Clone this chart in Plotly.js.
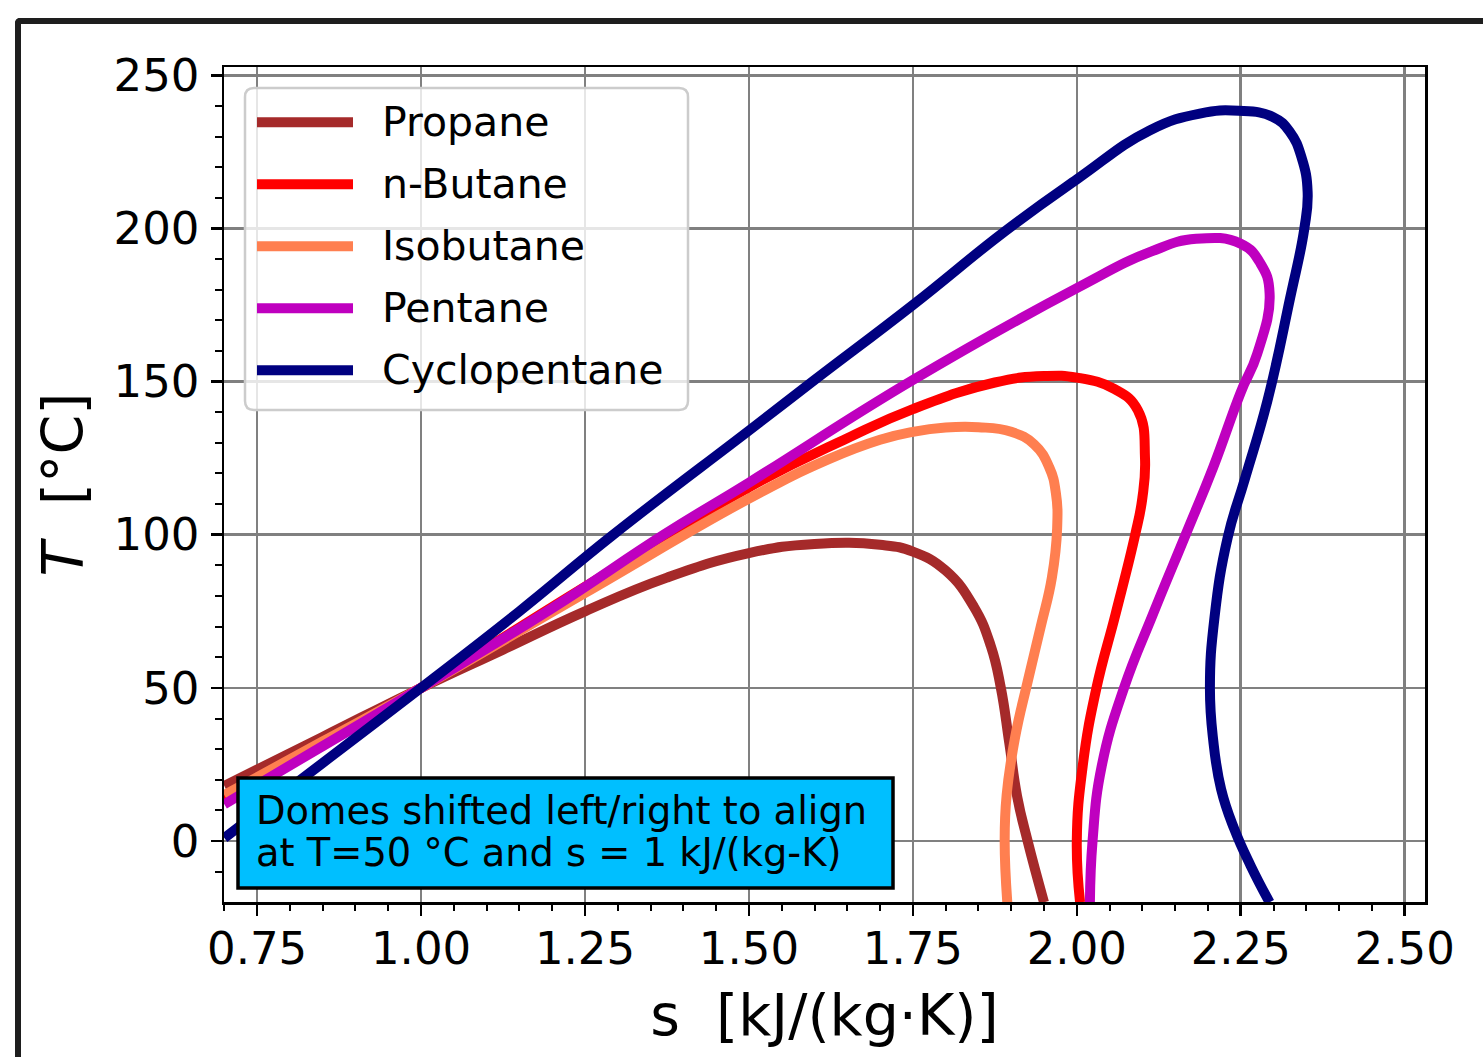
<!DOCTYPE html>
<html><head><meta charset="utf-8">
<script src="https://cdn.plot.ly/plotly-3.0.1.min.js"></script>
<style>
html,body{margin:0;padding:0;width:1483px;height:1057px;overflow:hidden;background:#fff;}
#chart{position:absolute;left:0;top:0;width:1483px;height:1057px;}
#frame{position:absolute;left:15px;top:18px;width:1600px;height:1200px;border-left:6px solid #1e1e1e;border-top:6px solid #1e1e1e;border-top-left-radius:5px;pointer-events:none;}
</style></head><body>
<div id="chart"></div><div id="frame"></div>
<script>
// ---- data ----
const seriesNames = ['Propane', 'n-Butane', 'Isobutane', 'Pentane', 'Cyclopentane'];
const seriesColors = ['#A52A2A', '#FF0000', '#FF7F50', '#BF00BF', '#000080'];

const propaneS = [0.70, 0.85, 1.00, 1.125, 1.25, 1.375, 1.50, 1.60, 1.70, 1.75, 1.80, 1.843, 1.869, 1.884, 1.897, 1.909, 1.925, 1.95];
const propaneT = [18, 34, 50, 62.5, 75, 86, 94, 97, 96.7, 94.5, 88.3, 76.5, 63.6, 50.2, 32.1, 14.6, 0, -20];

const butaneS = [0.70, 0.85, 1.00, 1.25, 1.50, 1.65, 1.75, 1.875, 1.95, 2.00, 2.057, 2.093, 2.104, 2.100, 2.089, 2.059, 2.030, 2.009, 2.000, 2.005];
const butaneT = [13.5, 32, 50, 83, 115.5, 131.5, 141, 149.7, 151.8, 151.3, 147.6, 140.7, 125, 112, 100, 74, 50, 24.5, 0, -20];

const isobutaneS = [0.70, 0.85, 1.00, 1.25, 1.50, 1.62, 1.70, 1.75, 1.80, 1.85, 1.90, 1.935, 1.958, 1.968, 1.97, 1.962, 1.945, 1.925, 1.906, 1.893, 1.89, 1.894];
const isobutaneT = [15, 32.5, 50, 81, 111.8, 124.5, 131, 133.6, 135, 135.1, 133.6, 129.5, 122, 113.8, 102, 86, 70, 52, 34, 15, 0, -20];

const pentaneS = [0.70, 0.85, 1.00, 1.20, 1.37, 1.50, 1.75, 2.00, 2.113, 2.182, 2.25, 2.28, 2.294, 2.275, 2.25, 2.208, 2.166, 2.116, 2.072, 2.038, 2.024, 2.02];
const pentaneT = [12, 31, 50, 76, 100, 117, 150.5, 180.5, 192.4, 196.6, 195, 188.6, 178.8, 159, 146.5, 122, 100, 74, 50, 24.5, 0, -20];

const cyclopentaneS = [0.70, 0.85, 1.00, 1.15, 1.293, 1.50, 1.60, 1.75, 1.89, 2.00, 2.111, 2.1875, 2.247, 2.299, 2.325, 2.343, 2.352, 2.347, 2.325, 2.291, 2.256, 2.230, 2.210, 2.203, 2.208, 2.220, 2.240, 2.265, 2.294];
const cyclopentaneT = [1, 25.5, 50, 75, 100, 134, 150.5, 175, 199, 216, 232, 237.5, 238.4, 236.4, 231.5, 223, 212, 200, 177, 144, 118, 99, 73, 50, 33, 17, 4, -8, -20];

const xTickVals = [0.75, 1.00, 1.25, 1.50, 1.75, 2.00, 2.25, 2.50];
const yTickVals = [0, 50, 100, 150, 200, 250];
const xTitleText = 's\u00a0 [kJ/(kg·K)]';
const yTitleText = '<i>T</i>\u00a0 [°C]';
const noteLines = ['Domes shifted left/right to align', 'at T=50 °C and s = 1 kJ/(kg-K)'];

const seriesS = [propaneS, butaneS, isobutaneS, pentaneS, cyclopentaneS];
const seriesT = [propaneT, butaneT, isobutaneT, pentaneT, cyclopentaneT];

// ---- layout geometry (pixels) ----
const W = 1483, H = 1057;
const PL = 224, PR = 1425, PT = 67, PB = 902;
const pw = PR - PL, ph = PB - PT;
const fx = x => (x - PL) / pw;
const fy = y => (PB - y) / ph;
const FONT = 'DejaVu Sans, Verdana, sans-serif';

const traces = seriesNames.map((n, i) => ({
  type: 'scatter', mode: 'lines', name: n,
  x: seriesS[i], y: seriesT[i],
  line: {color: seriesColors[i], width: 10, shape: 'spline', smoothing: 1.3},
  showlegend: false, hoverinfo: 'skip'
}));

const shapes = [];
const annotations = [];

function roundRect(x0, y0, x1, y1, r) {
  const rx = r / pw, ry = r / ph;
  const X0 = fx(x0), X1 = fx(x1), Y0 = fy(y1), Y1 = fy(y0);
  return `M${X0 + rx},${Y1} L${X1 - rx},${Y1} Q${X1},${Y1} ${X1},${Y1 - ry} ` +
         `L${X1},${Y0 + ry} Q${X1},${Y0} ${X1 - rx},${Y0} L${X0 + rx},${Y0} ` +
         `Q${X0},${Y0} ${X0},${Y0 + ry} L${X0},${Y1 - ry} Q${X0},${Y1} ${X0 + rx},${Y1} Z`;
}
shapes.push({type: 'path', xref: 'paper', yref: 'paper', path: roundRect(245, 88, 688, 410, 9),
  fillcolor: 'rgba(255,255,255,0.8)', line: {color: '#cccccc', width: 2.5}, layer: 'above'});
seriesNames.forEach((n, i) => {
  const yc = 122.3 + 62 * i;
  shapes.push({type: 'line', xref: 'paper', yref: 'paper', x0: fx(257), x1: fx(353), y0: fy(yc), y1: fy(yc),
    line: {color: seriesColors[i], width: 10}, layer: 'above'});
  annotations.push({xref: 'paper', yref: 'paper', x: fx(380), y: fy(yc), xanchor: 'left', yanchor: 'middle',
    text: n, showarrow: false, font: {family: FONT, size: 41, color: '#000'}});
});

shapes.push({type: 'rect', xref: 'paper', yref: 'paper', x0: fx(238), x1: fx(893), y0: fy(888), y1: fy(778),
  fillcolor: '#00BFFF', line: {color: '#000', width: 3.5}, layer: 'above'});
noteLines.forEach((t, i) => {
  annotations.push({xref: 'paper', yref: 'paper', x: fx(254), y: fy(810 + 42.5 * i), xanchor: 'left', yanchor: 'middle',
    text: t, showarrow: false, font: {family: FONT, size: 38.4, color: '#000'}});
});

const axisCommon = {
  showline: true, mirror: true, linecolor: '#000', linewidth: 2.5,
  ticks: 'outside', ticklen: 11, tickwidth: 2.5, tickcolor: '#000',
  showgrid: true, gridcolor: '#808080', gridwidth: 2.5,
  zeroline: false, automargin: false,
  tickfont: {family: FONT, size: 45, color: '#000'},
};

const layout = {
  width: W, height: H,
  margin: {l: PL, r: W - PR, t: PT, b: H - PB, pad: 0},
  paper_bgcolor: 'rgba(0,0,0,0)', plot_bgcolor: '#fff',
  showlegend: false,
  xaxis: Object.assign({}, axisCommon, {
    range: [0.6995, 2.531], tickmode: 'array', tickvals: xTickVals,
    ticktext: xTickVals.map(v => v.toFixed(2)),
    minor: {ticks: 'outside', ticklen: 6.5, tickwidth: 2, tickcolor: '#000', dtick: 0.05, tick0: 0, showgrid: false},
    ticklabelstandoff: -6,
    title: {text: xTitleText, font: {family: FONT, size: 57, color: '#000'}, standoff: 22}
  }),
  yaxis: Object.assign({}, axisCommon, {
    range: [-19.9, 252.7], tickmode: 'array', tickvals: yTickVals,
    ticktext: yTickVals.map(String),
    minor: {ticks: 'outside', ticklen: 6.5, tickwidth: 2, tickcolor: '#000', dtick: 10, tick0: 0, showgrid: false},
    ticklabelstandoff: 2,
    title: {text: yTitleText, font: {family: FONT, size: 57, color: '#000'}, standoff: 12}
  }),
  shapes: shapes,
  annotations: annotations
};

Plotly.newPlot('chart', traces, layout, {staticPlot: true, displayModeBar: false});
</script>
</body></html>
